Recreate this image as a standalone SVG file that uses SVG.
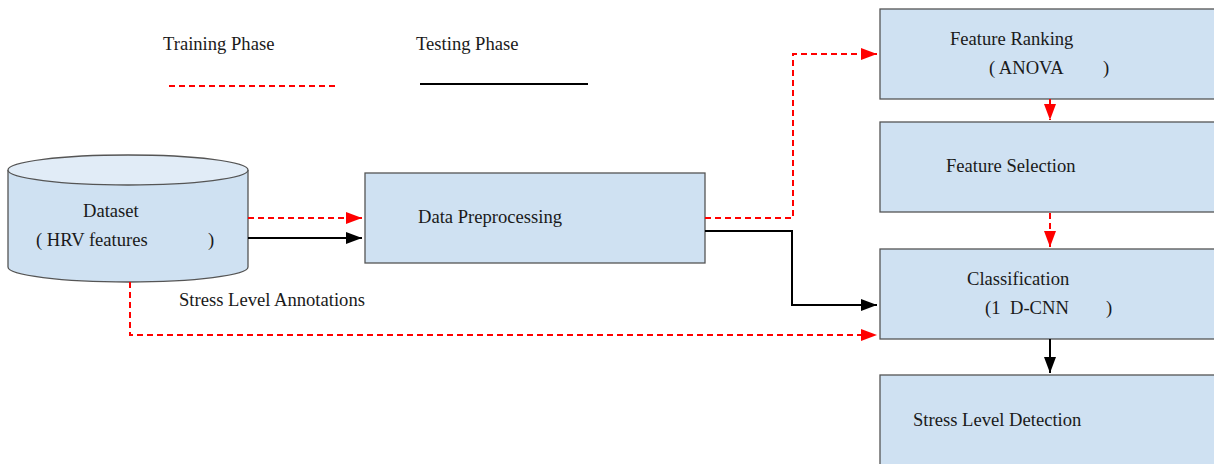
<svg xmlns="http://www.w3.org/2000/svg" width="1214" height="464" viewBox="0 0 1214 464">
<style>
text{font-family:"Liberation Serif","Times New Roman",serif;font-size:18.6px;fill:#1a1a1a}
.box{fill:#cfe1f2;stroke:#555;stroke-width:1.3}
.red{fill:none;stroke:#ff0000;stroke-width:2;stroke-dasharray:6,4}
.blk{fill:none;stroke:#000;stroke-width:2}
</style>
<defs>
<marker id="ar" markerUnits="userSpaceOnUse" markerWidth="18" markerHeight="12" refX="16" refY="6" orient="auto"><path d="M0,0 L16,6 L0,12 Z" fill="#ff0000"/></marker>
<marker id="ab" markerUnits="userSpaceOnUse" markerWidth="18" markerHeight="12" refX="16" refY="6" orient="auto"><path d="M0,0 L16,6 L0,12 Z" fill="#000"/></marker>
</defs>
<rect width="1214" height="464" fill="#fff"/>
<g id="legend">
<text x="163" y="50">Training Phase</text>
<text x="416" y="50">Testing Phase</text>
<line x1="169" y1="86" x2="338" y2="86" class="red"/>
<line x1="420" y1="84" x2="588" y2="84" class="blk"/>
</g>
<g id="dataset">
<path d="M8,170 L8,267 A120,15 0 0 0 248,267 L248,170" class="box"/>
<ellipse cx="128" cy="170" rx="120" ry="15" fill="#e1ecf7" stroke="#555" stroke-width="1.3"/>
<text x="83" y="217">Dataset</text>
<text x="36" y="246">( HRV features</text>
<text x="208" y="246">)</text>
</g>
<g id="preprocessing">
<rect x="365" y="173" width="340" height="90" class="box"/>
<text x="418" y="223">Data Preprocessing</text>
</g>
<g id="ranking">
<rect x="880" y="9" width="345" height="90" class="box"/>
<text x="950" y="45">Feature Ranking</text>
<text x="989" y="74">( ANOVA</text>
<text x="1103" y="74">)</text>
</g>
<g id="selection">
<rect x="880" y="122" width="345" height="90" class="box"/>
<text x="946" y="172">Feature Selection</text>
</g>
<g id="classification">
<rect x="880" y="249" width="345" height="90" class="box"/>
<text x="967" y="285">Classification</text>
<text x="985" y="314">(1</text>
<text x="1010" y="314">D-CNN</text>
<text x="1106" y="314">)</text>
</g>
<g id="detection">
<rect x="880" y="375" width="345" height="100" class="box"/>
<text x="913" y="426">Stress Level Detection</text>
</g>
<g id="connectors">
<line x1="248" y1="218" x2="362" y2="218" class="red" marker-end="url(#ar)"/>
<line x1="248" y1="238" x2="362" y2="238" class="blk" marker-end="url(#ab)"/>
<polyline points="705,218 793,218 793,54 877,54" class="red" marker-end="url(#ar)"/>
<polyline points="705,231 792,231 792,305 877,305" class="blk" marker-end="url(#ab)"/>
<polyline points="130,282 130,335 877,335" class="red" marker-end="url(#ar)"/>
<line x1="1050" y1="99" x2="1050" y2="120" class="red" marker-end="url(#ar)"/>
<line x1="1050" y1="213" x2="1050" y2="247" class="red" marker-end="url(#ar)"/>
<line x1="1050" y1="339" x2="1050" y2="373" class="blk" marker-end="url(#ab)"/>
<text x="179" y="306">Stress Level Annotations</text>
</g>
</svg>
